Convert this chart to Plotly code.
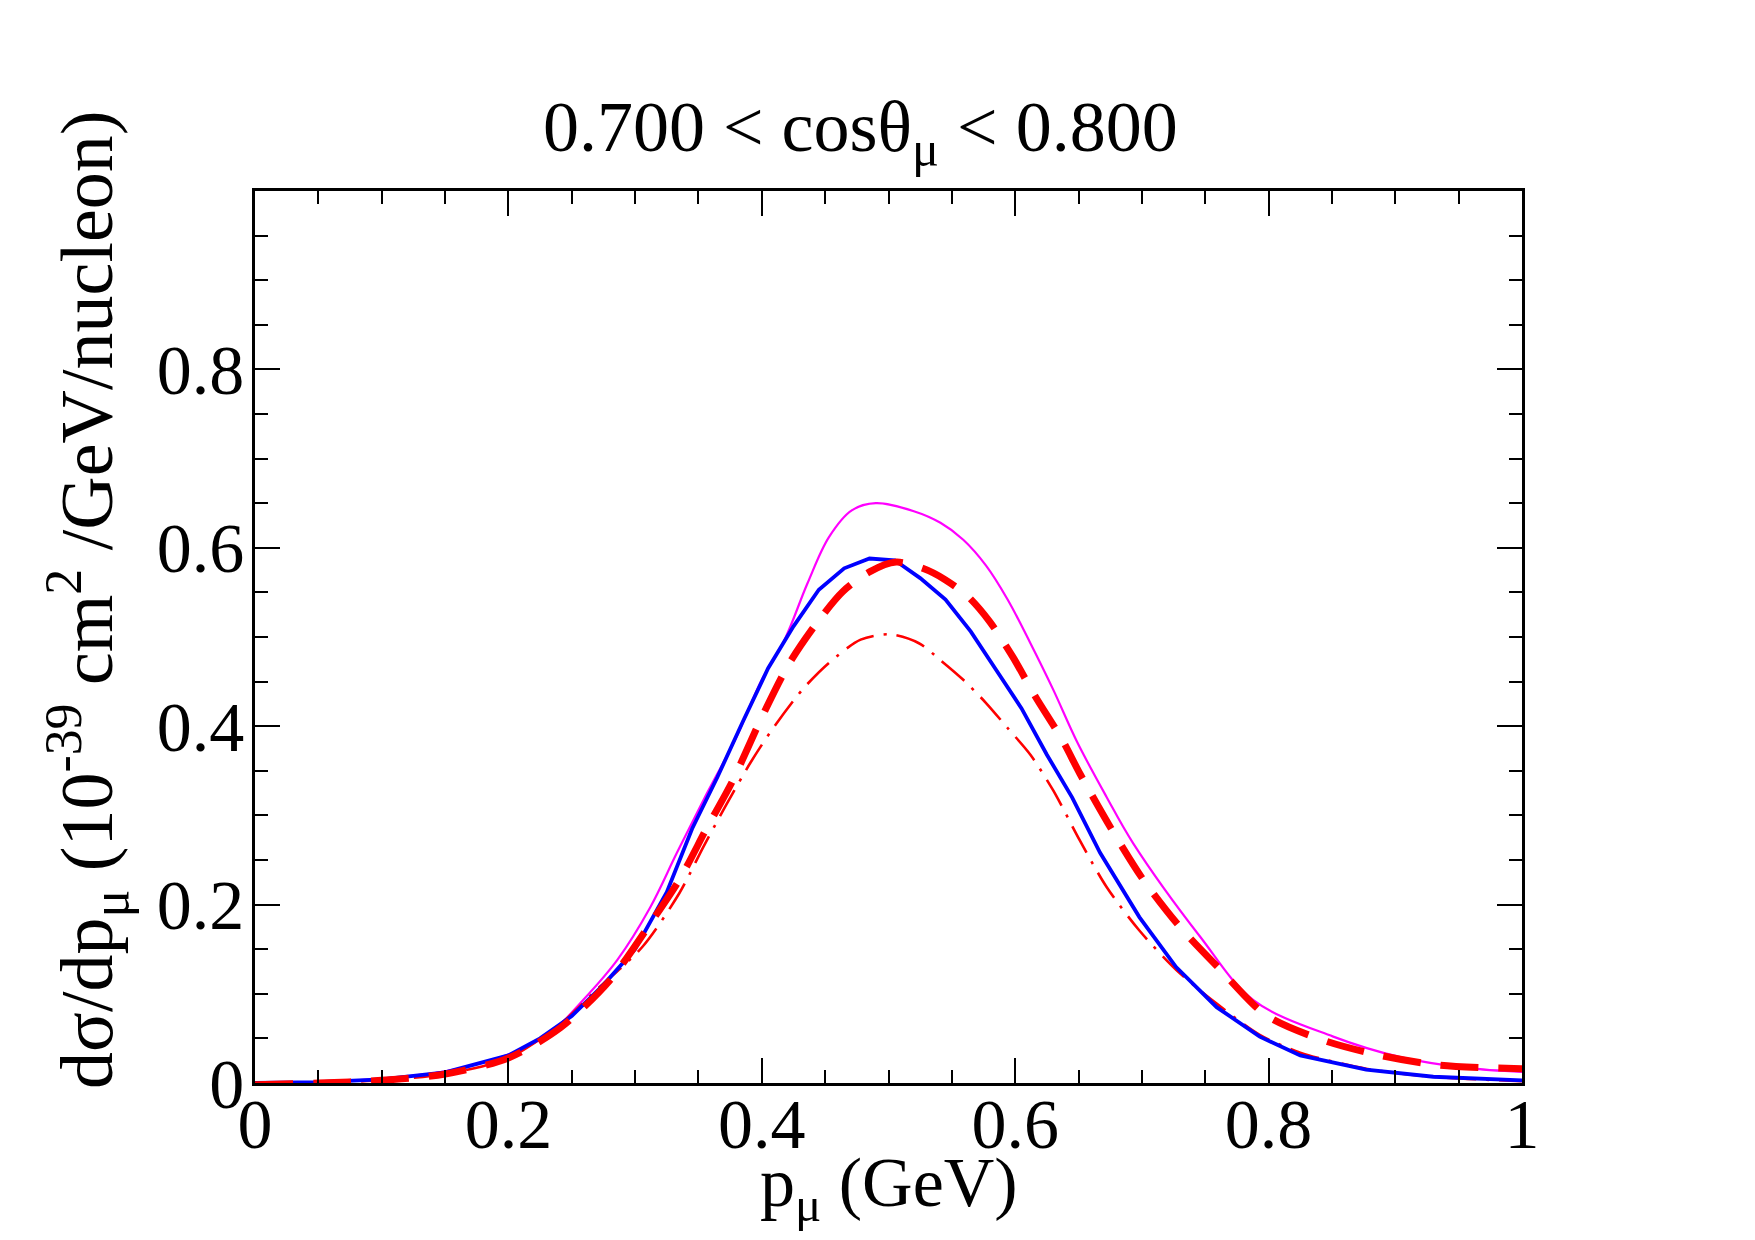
import plotly.graph_objects as go

# ---- data ----
blue_x = [0.0, 0.05, 0.1, 0.15, 0.2, 0.225, 0.25, 0.275, 0.3, 0.325, 0.345, 0.365, 0.385, 0.405,
          0.425, 0.445, 0.465, 0.485, 0.505, 0.525, 0.545, 0.565, 0.585, 0.605, 0.625, 0.645,
          0.667, 0.698, 0.727, 0.759, 0.793, 0.825, 0.877, 0.93, 1.0]
blue_y = [0.0, 0.001, 0.004, 0.012, 0.031, 0.050, 0.075, 0.110, 0.150, 0.214, 0.285, 0.343, 0.405, 0.465,
          0.512, 0.553, 0.577, 0.588, 0.586, 0.566, 0.542, 0.506, 0.463, 0.420, 0.368, 0.320,
          0.258, 0.186, 0.130, 0.085, 0.052, 0.031, 0.015, 0.007, 0.003]

mag_x = [0.0, 0.05, 0.1, 0.15, 0.2, 0.233, 0.259, 0.286, 0.312, 0.333, 0.355, 0.379, 0.40, 0.418,
         0.436, 0.453, 0.471, 0.49, 0.52, 0.541, 0.559, 0.577, 0.594, 0.612, 0.630, 0.649,
         0.672, 0.693, 0.746, 0.788, 0.851, 0.904, 0.956, 1.0]
mag_y = [0.0, 0.001, 0.005, 0.013, 0.032, 0.056, 0.093, 0.138, 0.197, 0.258, 0.320, 0.385, 0.452, 0.497,
         0.560, 0.612, 0.642, 0.650, 0.641, 0.628, 0.609, 0.580, 0.542, 0.493, 0.441, 0.382,
         0.321, 0.269, 0.164, 0.093, 0.052, 0.029, 0.017, 0.0125]

dash_x = [0.0, 0.05, 0.1, 0.15, 0.2, 0.241, 0.28, 0.314, 0.335, 0.357, 0.376, 0.40, 0.4215, 0.443,
          0.464, 0.485, 0.506, 0.527, 0.545, 0.563, 0.580, 0.598, 0.616, 0.637, 0.651, 0.675,
          0.701, 0.730, 0.762, 0.798, 0.843, 0.888, 0.935, 1.0]
dash_y = [-0.002, 0.0, 0.003, 0.010, 0.028, 0.062, 0.115, 0.183, 0.228, 0.287, 0.336, 0.410, 0.470, 0.515,
          0.551, 0.573, 0.584, 0.577, 0.564, 0.545, 0.517, 0.478, 0.433, 0.385, 0.347, 0.287,
          0.228, 0.175, 0.127, 0.076, 0.048, 0.031, 0.020, 0.016]

dd_x = [0.0, 0.05, 0.1, 0.15, 0.2, 0.24, 0.27, 0.306, 0.335, 0.354, 0.372, 0.391, 0.408, 0.432,
        0.453, 0.478, 0.501, 0.524, 0.541, 0.559, 0.577, 0.594, 0.612, 0.630, 0.651, 0.672,
        0.698, 0.727, 0.759, 0.793, 0.825, 0.877, 0.93, 1.0]
dd_y = [0.0, 0.0, 0.003, 0.010, 0.028, 0.065, 0.105, 0.153, 0.213, 0.265, 0.312, 0.359, 0.396, 0.441,
        0.471, 0.497, 0.503, 0.493, 0.474, 0.452, 0.426, 0.398, 0.368, 0.328, 0.272, 0.220,
        0.171, 0.127, 0.089, 0.054, 0.034, 0.016, 0.007, 0.002]

x_ticks = [0, 0.2, 0.4, 0.6, 0.8, 1.0]
x_labels = ["0", "0.2", "0.4", "0.6", "0.8", "1"]
y_ticks = [0, 0.2, 0.4, 0.6, 0.8, 1.0]
y_labels = ["0", "0.2", "0.4", "0.6", "0.8", ""]

title_text = "0.700 < cosθ<sub>μ</sub> < 0.800"
x_title = "p<sub>μ</sub> (GeV)"
y_title = "dσ/dp<sub>μ</sub> (10<sup>-39</sup> cm<sup>2</sup> /GeV/nucleon)"

# ---- layout geometry (pixels) ----
W, H = 1755, 1240
L, R, T, B = 255, 1522, 191, 1083
FONT = "Liberation Serif, Times New Roman, serif"

def px(xp):
    return (xp - L) / (R - L)

def py(yp):
    return (B - yp) / (B - T)

fig = go.Figure()
fig.add_trace(go.Scatter(x=mag_x, y=mag_y, mode="lines",
                         line=dict(color="#ff00ff", width=2.2, shape="spline", smoothing=1.0)))
fig.add_trace(go.Scatter(x=dd_x, y=dd_y, mode="lines",
                         line=dict(color="#ff0000", width=2.6, dash="30px,10px,3px,10px",
                                   shape="spline", smoothing=0.8)))
fig.add_trace(go.Scatter(x=blue_x, y=blue_y, mode="lines",
                         line=dict(color="#0000ff", width=3.8)))
fig.add_trace(go.Scatter(x=dash_x, y=dash_y, mode="lines",
                         line=dict(color="#ff0000", width=7, dash="38px,20px",
                                   shape="spline", smoothing=0.8)))

axis_common = dict(showline=True, linecolor="black", linewidth=2.5, mirror="ticks",
                   ticks="inside", ticklen=25, tickwidth=2, tickcolor="black",
                   showgrid=False, zeroline=False,
                   tickfont=dict(family=FONT, size=70, color="black"),
                   minor=dict(ticks="inside", ticklen=13, tickwidth=2, tickcolor="black",
                              dtick=0.05, tick0=0, showgrid=False))

fig.update_xaxes(range=[0, 1], tickmode="array", tickvals=x_ticks, ticktext=x_labels,
                 ticklabelstandoff=-22, **axis_common)
fig.update_yaxes(range=[0, 1], tickmode="array", tickvals=y_ticks, ticktext=y_labels,
                 ticklabelstandoff=-6, **axis_common)

fig.update_layout(
    width=W, height=H,
    margin=dict(l=L, r=W - R, t=T, b=H - B, pad=0),
    paper_bgcolor="white", plot_bgcolor="white",
    showlegend=False,
    font=dict(family=FONT, color="black"),
    annotations=[
        dict(text=title_text, x=px(860), y=py(132), xref="paper", yref="paper",
             showarrow=False, font=dict(family=FONT, size=72, color="black"),
             xanchor="center", yanchor="middle"),
        dict(text=x_title, x=px(889), y=py(1188), xref="paper", yref="paper",
             showarrow=False, font=dict(family=FONT, size=70, color="black"),
             xanchor="center", yanchor="middle"),
        dict(text=y_title, x=px(87), y=py(600), xref="paper", yref="paper",
             showarrow=False, textangle=-90, font=dict(family=FONT, size=74, color="black"),
             xanchor="center", yanchor="middle"),
    ],
)

fig.write_html("out.html")
